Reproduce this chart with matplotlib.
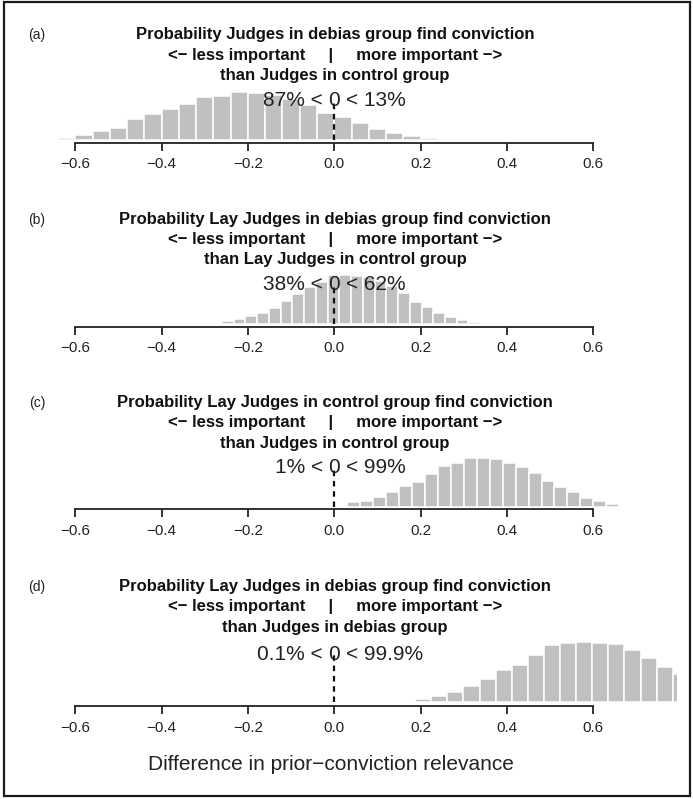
import matplotlib
matplotlib.use("Agg")
from matplotlib import pyplot as plt
from matplotlib import transforms
from matplotlib.patches import Rectangle
import numpy as np

plt.rcParams["font.family"] = ["Liberation Sans", "DejaVu Sans"]
plt.rcParams["lines.scale_dashes"] = False

# posterior histograms of the difference (bar heights, arbitrary units)
a_start, a_width = -0.72, 0.04
a_heights = [0.7, 1.7, 2.5, 5, 9, 12.7, 21, 26, 31, 36.7, 43, 44, 48.7, 47.7,
             45, 41.7, 35, 27.7, 23, 17, 11, 7, 4, 2.3, 1]

b_start, b_width = -0.2876, 0.0272
b_heights = [1, 2.3, 4.3, 7.7, 11, 16, 22.7, 30, 36.7, 41.5, 48.3, 48.5,
             48, 46.5, 43, 38, 30.7, 21.7, 16.7, 11, 6.7, 4, 1.7, 0.7]

c_start, c_width = 0.0, 0.03
c_heights = [1, 4.3, 6, 9.3, 14.3, 21, 25, 33, 40.5, 44, 48.3, 48.3, 48,
             43.3, 40, 34, 25.7, 20, 14.7, 9, 5.7, 2.3, 0.7, 0.3]

d_start, d_width = 0.15, 0.0373
d_heights = [0.7, 2.7, 5.7, 9.3, 16, 22.3, 31.7, 37, 46.3, 56.7, 58.3, 59.3,
             58.3, 57.3, 51.7, 43.3, 34.3, 27.3]

panel_tags = ["(a)", "(b)", "(c)", "(d)"]
first_lines = ["Probability Judges in debias group find conviction",
               "Probability Lay Judges in debias group find conviction",
               "Probability Lay Judges in control group find conviction",
               "Probability Lay Judges in debias group find conviction"]
middle_line = "<\u2212 less important     |     more important \u2212>"
last_lines = ["than Judges in control group",
              "than Lay Judges in control group",
              "than Judges in control group",
              "than Judges in debias group"]
pct_below = ["87%", "38%", "1%", "0.1%"]
pct_above = ["13%", "62%", "99%", "99.9%"]
tick_vals = [-0.6, -0.4, -0.2, 0.0, 0.2, 0.4, 0.6]
xlabel = "Difference in prior\u2212conviction relevance"

starts = [a_start, b_start, c_start, d_start]
widths = [a_width, b_width, c_width, d_width]
heights = [a_heights, b_heights, c_heights, d_heights]

# layout (pixels from top-left)
W, H, DPI = 693, 799, 100
axis_y = [142.7, 326.7, 509.3, 706.0]
base_gap = [2.5, 3.2, 2.6, 4.3]
title_y = [39.5, 223.5, 407.0, 591.0]
line_step = 20.3
x_lo, x_hi = -0.725, 0.793
zero_px, px_per_unit = 334.3, 431.7
ax_h = 90.0


def fx(px):
    return px / W


def fy(py):
    return 1 - py / H


fig = plt.figure(figsize=(W / DPI, H / DPI), dpi=DPI)

ax_left = zero_px + x_lo * px_per_unit
ax_w = (x_hi - x_lo) * px_per_unit
tick_labels = [f"{v:.1f}".replace("-", "\u2212") for v in tick_vals]

for i in range(4):
    ax = fig.add_axes([fx(ax_left), fy(axis_y[i]), ax_w / W, ax_h / H])
    edges = starts[i] + widths[i] * np.arange(len(heights[i]))
    ax.bar(edges, heights[i], width=widths[i], align="edge",
           color="#c0c0c0", edgecolor="white", linewidth=1.1)
    ax.set_xlim(x_lo, x_hi)
    ax.set_ylim(-base_gap[i], ax_h - base_gap[i])
    for s in ["top", "left", "right"]:
        ax.spines[s].set_visible(False)
    ax.spines["bottom"].set_bounds(-0.6, 0.6)
    ax.spines["bottom"].set_linewidth(1.3)
    ax.spines["bottom"].set_color("#222222")
    ax.set_yticks([])
    ax.set_xticks(tick_vals)
    ax.set_xticklabels(tick_labels)
    ax.tick_params(axis="x", direction="out", length=6, width=1.3,
                   color="#222222", labelsize=11, pad=4.5, labelcolor="#222222")
    ax.patch.set_alpha(0)

    # comparison value: dashed line and the percentages either side of 0
    cv_ht = 0.7 * max(heights[i])
    ax.plot([0, 0], [0, 1.15 * cv_ht], color="#111111", lw=1.6,
            dashes=(4.0, 3.4), dash_capstyle="butt")
    fs = 15
    half0 = 0.556 * fs / 2
    sp = 0.278 * fs
    ax.text(0, cv_ht, "0", ha="center", va="baseline", fontsize=fs, color="#222222")
    ax.text(0, cv_ht, pct_below[i] + " <", ha="right", va="baseline", fontsize=fs,
            color="#222222",
            transform=transforms.offset_copy(ax.transData, fig=fig, x=-(half0 + sp), units="points"))
    ax.text(0, cv_ht, "< " + pct_above[i], ha="left", va="baseline", fontsize=fs,
            color="#222222",
            transform=transforms.offset_copy(ax.transData, fig=fig, x=half0 + sp, units="points"))

    # titles
    cx = 335
    fig.text(fx(37), fy(title_y[i]), panel_tags[i], ha="center", va="baseline",
             fontsize=10, color="#222222")
    fig.text(fx(cx), fy(title_y[i]), first_lines[i], ha="center", va="baseline",
             fontsize=12, fontweight="bold", color="#111111")
    fig.text(fx(cx), fy(title_y[i] + line_step), middle_line, ha="center",
             va="baseline", fontsize=12, fontweight="bold", color="#111111")
    fig.text(fx(cx), fy(title_y[i] + 2 * line_step), last_lines[i], ha="center",
             va="baseline", fontsize=12, fontweight="bold", color="#111111")

fig.text(fx(331), fy(770), xlabel, ha="center", va="baseline", fontsize=15,
         color="#222222")

# outer frame
fig.add_artist(Rectangle((fx(3.5), fy(796)), fx(690) - fx(3.5), fy(2) - fy(796),
                         transform=fig.transFigure, fill=False, lw=1.6,
                         edgecolor="#1a1a1a"))

fig.savefig("out.png", dpi=DPI)
